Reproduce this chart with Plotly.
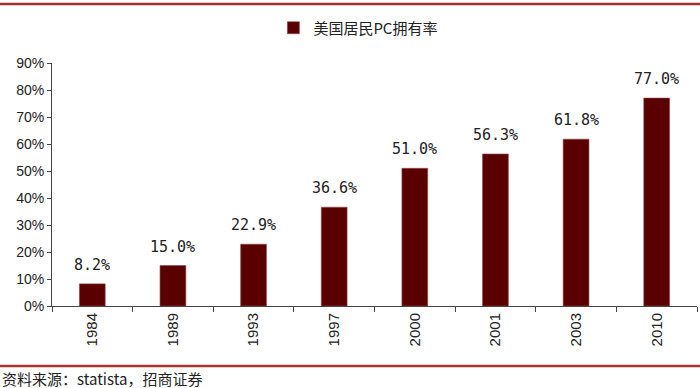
import plotly.graph_objects as go

years = ["1984", "1989", "1993", "1997", "2000", "2001", "2003", "2010"]
ownership = [8.2, 15.0, 22.9, 36.6, 51.0, 56.3, 61.8, 77.0]
series_name = "美国居民PC拥有率"
source_text = "资料来源：statista，招商证券"
y_ticks = [0, 10, 20, 30, 40, 50, 60, 70, 80, 90]
y_tick_labels = [f"{v}%" for v in y_ticks]

fig = go.Figure()
fig.add_trace(go.Bar(
    x=years, y=ownership, name=series_name,
    marker=dict(color="#5a0000", line=dict(color="#8a4a4a", width=0.6)),
    width=0.32,
    showlegend=True,
))

# category index positions for the value labels (category axis)
value_labels = [
    dict(x=i, y=v, xref="x", yref="y", text=f"{v:.1f}%", showarrow=False,
         yanchor="bottom", yshift=8,
         font=dict(family="DejaVu Sans Mono", size=15, color="#222"))
    for i, v in enumerate(ownership)
]

fig.update_layout(
    width=700, height=388,
    margin=dict(l=52, r=3, t=63, b=82, autoexpand=False),
    paper_bgcolor="white", plot_bgcolor="white",
    showlegend=True,
    legend=dict(orientation="h", x=0.475, xanchor="center", y=1 + (63-28)/243, yanchor="middle",
                font=dict(family="Noto Sans CJK SC", size=15, color="#222"),
                itemwidth=30),
    xaxis=dict(type="category", categoryorder="array", categoryarray=years,
               range=[-0.5, len(years) - 0.5],
               showline=True, linecolor="#444", linewidth=1,
               ticks="outside", tickson="boundaries", ticklen=5, tickcolor="#444",
               tickangle=-90, tickfont=dict(family="Liberation Sans", size=15, color="#222"),
               showgrid=False, automargin=False),
    yaxis=dict(range=[0, 90], tickvals=y_ticks, ticktext=y_tick_labels, showline=True,
               linecolor="#444", linewidth=1, ticks="outside", ticklen=4, tickcolor="#444",
               tickfont=dict(family="Liberation Sans", size=14, color="#222"),
               showgrid=False, zeroline=False, automargin=False),
    font=dict(family="Noto Sans CJK SC"),
    shapes=[
        dict(type="line", xref="paper", yref="paper", x0=-52/645, x1=1+3/645,
             y0=1 + (63-4)/243, y1=1 + (63-4)/243, line=dict(color="#a83232", width=2.5)),
        dict(type="line", xref="paper", yref="paper", x0=-52/645, x1=1+3/645,
             y0=-(366-306)/243, y1=-(366-306)/243, line=dict(color="#a83232", width=2.5)),
    ],
    annotations=value_labels + [
        dict(text=source_text, xref="paper", yref="paper", x=-52/645, xanchor="left",
             y=-(378-306)/243, yanchor="middle", showarrow=False,
             font=dict(family="Noto Sans CJK SC", size=15, color="#222")),
    ],
)

fig.write_html("out.html", config={"displayModeBar": False},
               post_script="document.body.style.margin='0';")
